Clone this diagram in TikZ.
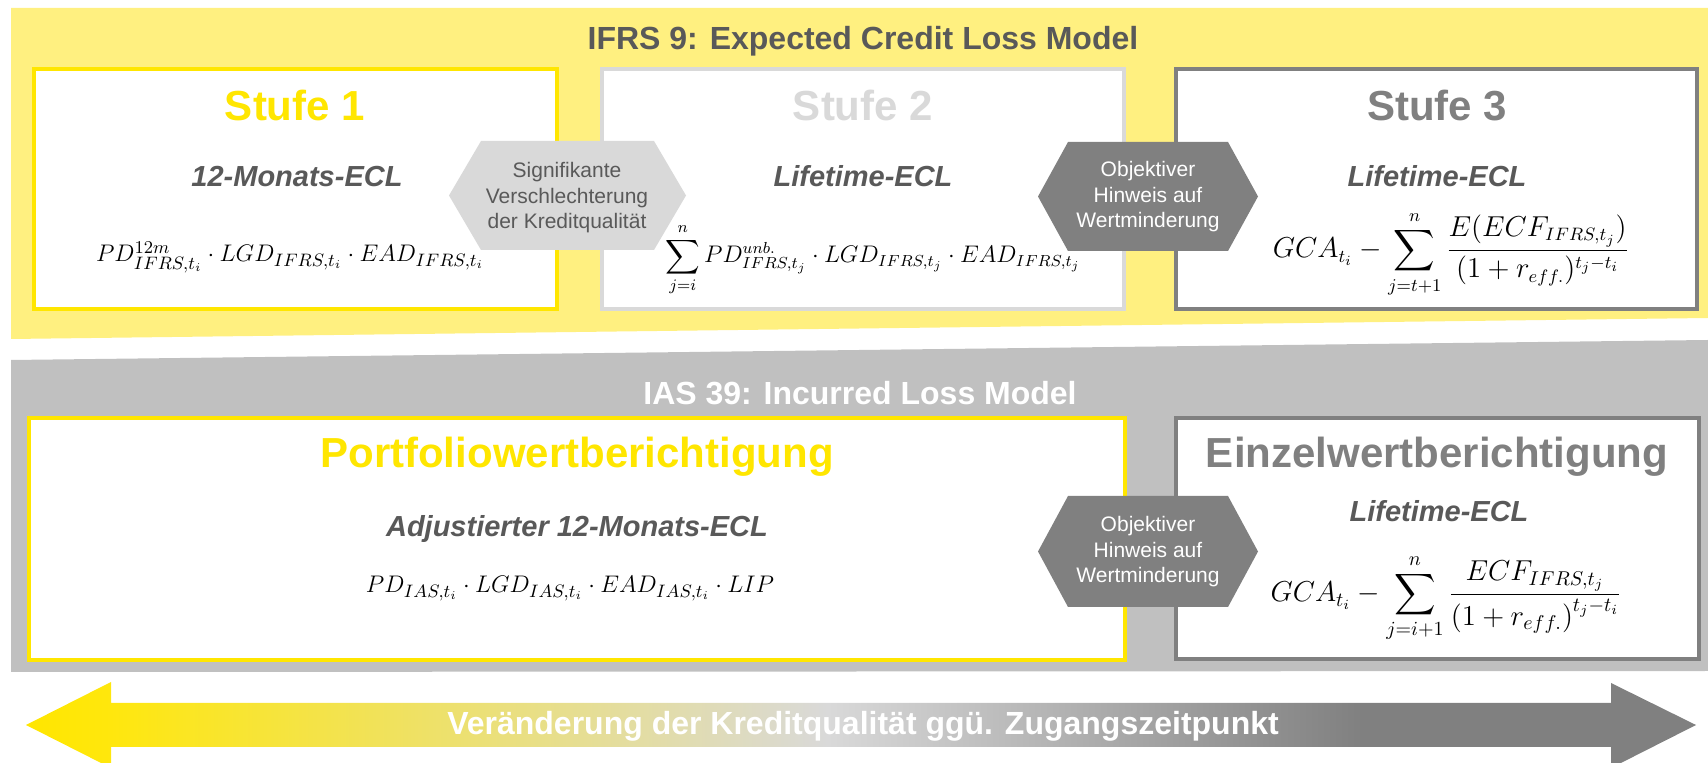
\documentclass[tikz,border=0pt]{standalone}
\usepackage{fontspec}
\setmainfont{Liberation Sans}
\usepackage{amsmath}
\definecolor{eyyellow}{RGB}{255,230,0}
\definecolor{bandyellow}{RGB}{255,240,128}
\definecolor{bandgrey}{RGB}{192,192,192}
\definecolor{lightgrey}{RGB}{217,217,217}
\definecolor{midgrey}{RGB}{128,128,128}
\definecolor{darkgrey}{RGB}{89,89,89}
\pgfdeclarehorizontalshading{qualityshade}{100bp}{color(0bp)=(eyyellow); color(25bp)=(eyyellow); color(27.5bp)=(eyyellow!95!white); color(49bp)=(lightgrey); color(65bp)=(midgrey); color(100bp)=(midgrey)}
\begin{document}
\begin{tikzpicture}[x=0.5pt,y=-0.5pt,
	headline/.style={font=\fontsize{16}{19}\selectfont\bfseries, anchor=base},
	stagetitle/.style={font=\fontsize{21}{25}\selectfont\bfseries, anchor=base},
	ecl/.style={font=\fontsize{14.5}{17}\selectfont\bfseries\itshape, text=darkgrey, anchor=base},
	formula/.style={font=\fontsize{13}{16}\selectfont, anchor=base},
	hextext/.style={font=\fontsize{10.5}{12.75}\selectfont, align=center},
	stagebox/.style={line width=2pt, fill=white}]
	\useasboundingbox (0,0) rectangle (1708,763);
	%Bands
	\fill[bandyellow] (11,8) -- (1708,8) -- (1708,318) -- (11,339) -- cycle;
	\fill[bandgrey] (11,360) -- (1708,340) -- (1708,671) -- (11,672) -- cycle;
	\node[headline, text=darkgrey] (ifrs) at (863,50) {IFRS 9: Expected Credit Loss Model};
	\node[headline, text=white] (ias) at (860,405) {IAS 39: Incurred Loss Model};
	%IFRS 9 stages
	\draw[stagebox, draw=eyyellow] (34,69) rectangle (557,309);
	\draw[stagebox, draw=lightgrey] (602,69) rectangle (1124,309);
	\draw[stagebox, draw=midgrey] (1176,69) rectangle (1697,309);
	%IAS 39 boxes
	\draw[stagebox, draw=eyyellow] (29,418) rectangle (1125,660);
	\draw[stagebox, draw=midgrey] (1176,418) rectangle (1699,659);
	%Hexagons
	\fill[lightgrey] (449,195.5) -- (481,141) -- (654,141) -- (686,195.5) -- (654,250) -- (481,250) -- cycle;
	\node[hextext, text=darkgrey] (signifikant) at (567,198) {Signifikante\\Verschlechterung\\der Kreditqualität};
	\fill[midgrey] (1038,196.5) -- (1068,142) -- (1228,142) -- (1258,196.5) -- (1228,251) -- (1068,251) -- cycle;
	\node[hextext, text=white] (objektivA) at (1148,197) {Objektiver\\Hinweis auf\\Wertminderung};
	\fill[midgrey] (1038,551.5) -- (1068,496) -- (1228,496) -- (1258,551.5) -- (1228,607) -- (1068,607) -- cycle;
	\node[hextext, text=white] (objektivB) at (1148,552) {Objektiver\\Hinweis auf\\Wertminderung};
	%Stage texts
	\node[stagetitle, text=eyyellow] (stufeA) at (295,121) {Stufe 1};
	\node[stagetitle, text=lightgrey] (stufeB) at (863,121) {Stufe 2};
	\node[stagetitle, text=midgrey] (stufeC) at (1437,121) {Stufe 3};
	\node[ecl] (eclA) at (297,187) {12-Monats-ECL};
	\node[ecl] (eclB) at (863,187) {Lifetime-ECL};
	\node[ecl] (eclC) at (1437,187) {Lifetime-ECL};
	\node[formula] (formA) at (290,262) {$PD^{12m}_{IFRS,t_i}\cdot LGD_{IFRS,t_i}\cdot EAD_{IFRS,t_i}$};
	\node[formula, font=\fontsize{11.5}{14}\selectfont] (formB) at (873,263) {$\displaystyle\sum_{j=i}^{n} PD^{unb.}_{IFRS,t_j}\cdot LGD_{IFRS,t_j}\cdot EAD_{IFRS,t_j}$};
	\node[formula, font=\fontsize{13.5}{16}\selectfont] (formC) at (1451,258) {$\displaystyle GCA_{t_i}-\sum_{j=t+1}^{n}\frac{E(ECF_{IFRS,t_j})}{(1+r_{eff.})^{t_j-t_i}}$};
	\node[stagetitle, text=eyyellow] (portfolio) at (577,468) {Portfoliowertberichtigung};
	\node[stagetitle, text=midgrey] (einzel) at (1437,468) {Einzelwertberichtigung};
	\node[ecl] (eclP) at (577,537) {Adjustierter 12-Monats-ECL};
	\node[ecl] (eclE) at (1439,522) {Lifetime-ECL};
	\node[formula] (formP) at (570,593) {$PD_{IAS,t_i}\cdot LGD_{IAS,t_i}\cdot EAD_{IAS,t_i}\cdot LIP$};
	\node[formula, font=\fontsize{14}{17}\selectfont] (formE) at (1446,602) {$\displaystyle GCA_{t_i}-\sum_{j=i+1}^{n}\frac{ECF_{IFRS,t_j}}{\left(1+r_{eff.}\right)^{t_j-t_i}}$};
	%Arrow
	\shade[shading=qualityshade] (26,725) -- (111,682) -- (111,703) -- (1611,703) -- (1611,683) -- (1696,725) -- (1611,768) -- (1611,747) -- (111,747) -- (111,768) -- cycle;
	\node[headline, text=white] (change) at (863,735) {Veränderung der Kreditqualität ggü. Zugangszeitpunkt};
\end{tikzpicture}
\end{document}
